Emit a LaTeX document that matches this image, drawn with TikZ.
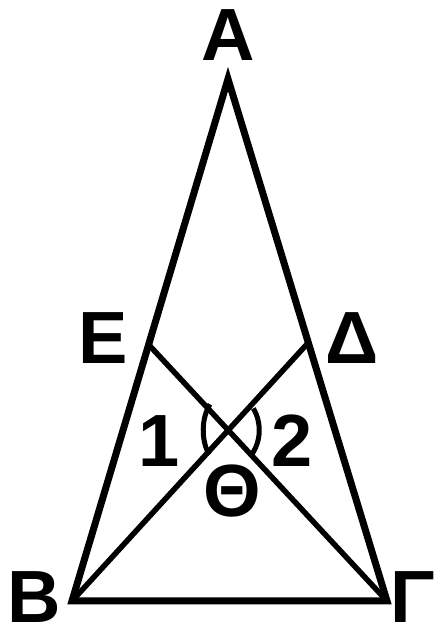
\documentclass[tikz,border=0pt]{standalone}
\usepackage{fontspec}
\setmainfont{Liberation Sans}
\begin{document}
\begin{tikzpicture}[x=1pt,y=1pt,
  lbl/.style={font=\fontsize{74}{80}\selectfont\bfseries, inner sep=0pt},
  side/.style={line width=7pt, line join=miter},
  cev/.style={line width=5.5pt},
  ang/.style={line width=5pt}]
\useasboundingbox (0,0) rectangle (437,630);
\coordinate (A) at (228,551);
\coordinate (B) at (72,29);
\coordinate (G) at (387,29);
\coordinate (E) at (149,285);
\coordinate (D) at (308,287);
\coordinate (T) at (intersection of E--G and B--D);
\draw[cev] (E) -- (G);
\draw[cev] (B) -- (D);
\draw[side] (A) -- (B) -- (G) -- cycle;
\draw[ang] (T) ++(137:25 and 38) arc[start angle=137, end angle=220, x radius=25, y radius=38];
\draw[ang] (T) ++(-40:31 and 37) arc[start angle=-40, end angle=36, x radius=31, y radius=37];
\node[lbl] (lA) at (228,595) {A};
\node[lbl] (lE) at (103,292) {E};
\node[lbl] (lD) at (352,292) {Δ};
\node[lbl] (lB) at (34,33) {B};
\node[lbl] (lG) at (413,33) {Γ};
\node[lbl] (l1) at (159,189) {1};
\node[lbl] (l2) at (292,189) {2};
\node[lbl] (lT) at (232,139) {Θ};
\end{tikzpicture}
\end{document}
